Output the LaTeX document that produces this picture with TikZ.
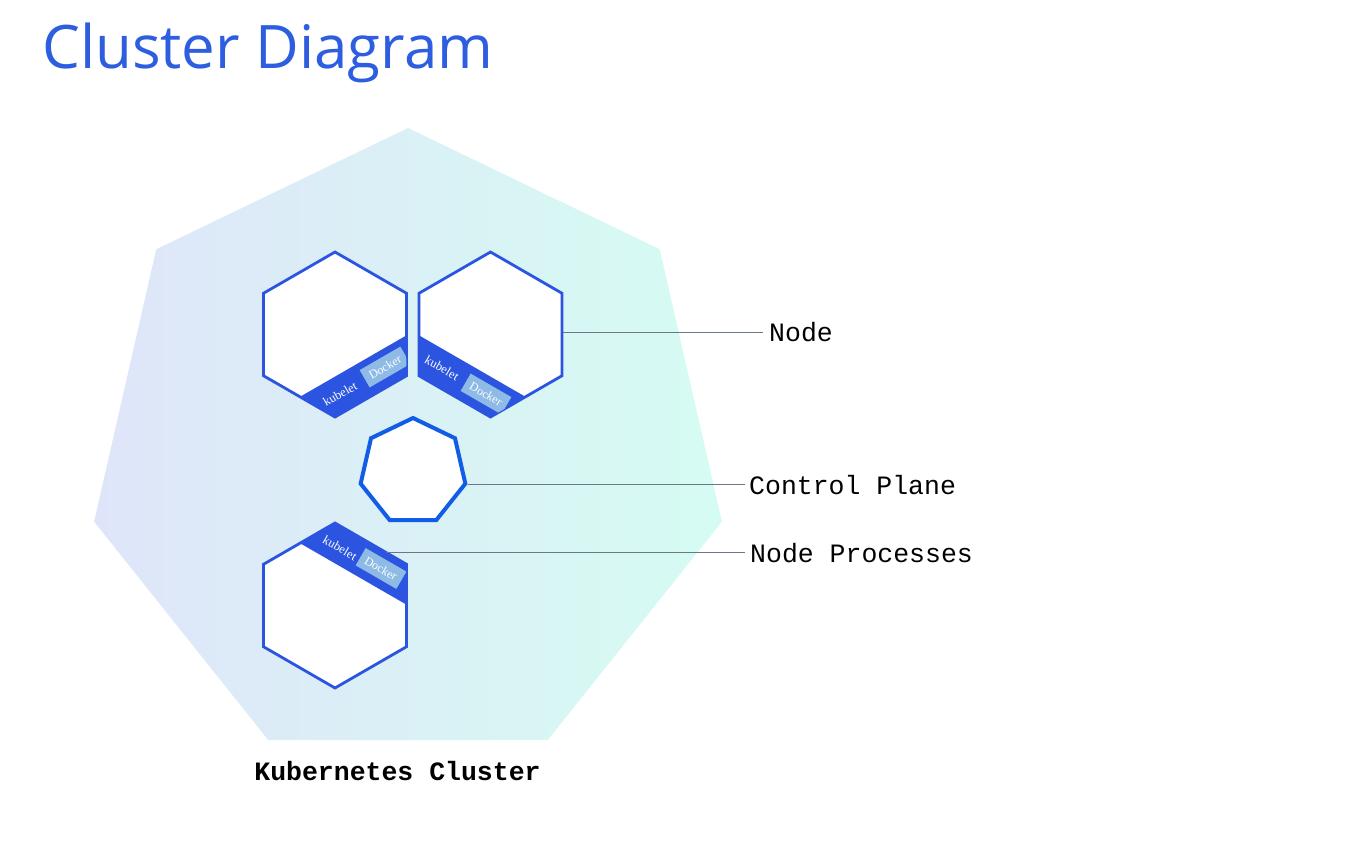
\documentclass[tikz,border=0pt]{standalone}
\usepackage{fontspec}
\setmainfont{Liberation Serif}
\newfontfamily\titlefont{Open Sans}
\newfontfamily\monofont{Liberation Mono}
\usetikzlibrary{shapes.geometric}
\definecolor{kblue}{HTML}{2B55E0}
\definecolor{cpblue}{HTML}{115DE6}
\definecolor{dockblue}{HTML}{8EBBE6}
\definecolor{ttl}{HTML}{2E5EE0}
\definecolor{conncol}{HTML}{6A7888}
\definecolor{gl}{HTML}{DFE5F9}
\definecolor{gr}{HTML}{D5FCF2}
\begin{document}
\begin{tikzpicture}[x=1pt,y=-1pt,
  hexnode/.style={regular polygon, regular polygon sides=6, shape border rotate=30,
    minimum size=165pt, inner sep=0pt, fill=white, draw=kblue, line width=2.8pt},
  cpnode/.style={regular polygon, regular polygon sides=7, minimum size=107.4pt,
    inner sep=0pt, fill=white, draw=cpblue, line width=4pt},
  band/.style={fill=kblue},
  dockerbox/.style={fill=dockblue, text=white, minimum width=47pt, minimum height=20pt,
    inner sep=0pt, font=\fontsize{12}{14}\selectfont},
  kubelettext/.style={text=white, inner sep=0pt, font=\fontsize{12.5}{14}\selectfont},
  lbl/.style={inner sep=0pt, font=\monofont\fontsize{26.5}{30}\selectfont},
  conn/.style={draw=conncol, line width=0.9pt}]
\useasboundingbox (0,0) rectangle (1366,846);

% title
\node[anchor=base west, inner sep=0pt, text=ttl, font=\titlefont\fontsize{60}{72}\selectfont]
  (title) at (42,68) {Cluster Diagram};

% cluster
\node[regular polygon, regular polygon sides=7, minimum size=644pt, inner sep=0pt,
  left color=gl, right color=gr, draw=none] (cluster) at (408,450) {};
\node[lbl, font=\monofont\bfseries\fontsize{26.5}{30}\selectfont] (kc) at (397.5,771) {Kubernetes Cluster};

% labels
\node[lbl, anchor=west] (lnode) at (769,332) {Node};
\node[lbl, anchor=west] (lcp) at (749,485) {Control Plane};
\node[lbl, anchor=west] (lnp) at (750,553) {Node Processes};

% nodes
\node[hexnode] (h1) at (335,334.5) {};
\node[hexnode] (h2) at (490.5,334.5) {};
\node[hexnode] (h3) at (335,605.5) {};

% connectors
\coordinate (npstart) at (386,552);
\draw[conn] (h2.east |- lnode.west) -- ([xshift=-6pt]lnode.west);
\draw[conn] (npstart) -- ([xshift=-5pt]npstart -| lnp.west);

% bands hex1
\fill[band] (300,396.8) -- (406.4,335.4) -- (406.4,375.75) -- (335,417) -- cycle;
\begin{scope}
  \clip (300,396.8) -- (406.4,335.4) -- (406.4,375.75) -- (335,417) -- cycle;
  \node[dockerbox, rotate=30] (d1) at (385,367) {Docker};
\end{scope}
\node[kubelettext, rotate=30] (k1) at (340,394) {kubelet};

% bands hex2
\fill[band] (419.1,335.4) -- (525.5,396.8) -- (490.5,417) -- (419.1,375.75) -- cycle;
\begin{scope}
  \clip (419.1,335.4) -- (525.5,396.8) -- (490.5,417) -- (419.1,375.75) -- cycle;
  \node[dockerbox, rotate=-30] (d2) at (486,394) {Docker};
\end{scope}
\node[kubelettext, rotate=-30] (k2) at (442,368) {kubelet};

% bands hex3
\fill[band] (300,543.2) -- (335,523) -- (406.4,564.25) -- (406.4,604.6) -- cycle;
\begin{scope}
  \clip (300,543.2) -- (335,523) -- (406.4,564.25) -- (406.4,604.6) -- cycle;
  \node[dockerbox, rotate=-30] (d3) at (381,568.5) {Docker};
\end{scope}
\node[kubelettext, rotate=-30] (k3) at (340,548) {kubelet};

% control plane
\node[cpnode] (cp) at (413,471.7) {};
\draw[conn] (cp.corner 6) -- ([xshift=-4pt]cp.corner 6 -| lcp.west);
\end{tikzpicture}
\end{document}
